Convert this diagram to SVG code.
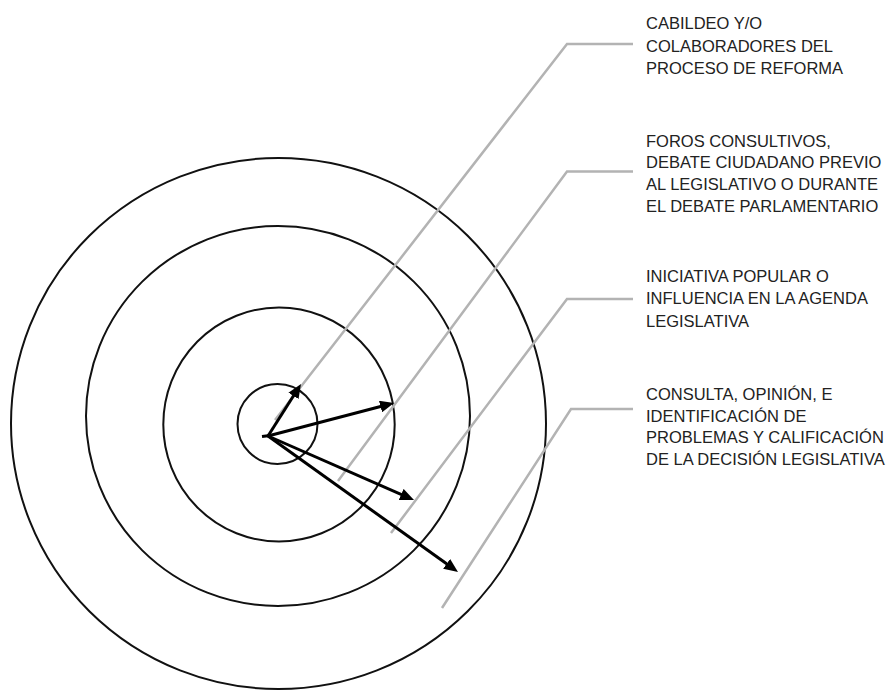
<svg xmlns="http://www.w3.org/2000/svg" width="890" height="690" viewBox="0 0 890 690">
<style>
.ring{fill:none;stroke:#111;stroke-width:2}
.lead{fill:none;stroke:#b3b3b3;stroke-width:2.5;stroke-linejoin:miter}
.arr{fill:none;stroke:#000;stroke-width:3;stroke-linecap:butt}
.lbl{font-family:"Liberation Sans",Arial,sans-serif;font-size:16.5px;fill:#222}
</style>
<defs>
<marker id="ah" markerUnits="userSpaceOnUse" markerWidth="14" markerHeight="12" viewBox="0 0 14 12" refX="6" refY="6" orient="auto">
<path d="M0,0 L14,6 L0,12 z" fill="#000"/>
</marker>
</defs>
<rect width="890" height="690" fill="#fff"/>
<g id="rings">
<ellipse id="ring4" class="ring" cx="278.5" cy="423.5" rx="267.5" ry="265.5"/>
<ellipse id="ring3" class="ring" cx="278" cy="416" rx="192" ry="190"/>
<ellipse id="ring2" class="ring" cx="279" cy="424.5" rx="115.7" ry="117"/>
<circle id="ring1" class="ring" cx="277.5" cy="424" r="40"/>
</g>
<g id="connectors">
<polyline class="lead" points="275,420 567,44 633,44"/>
<polyline class="lead" points="338,481 567,171.5 633,171.5"/>
<polyline class="lead" points="391,533 567,299 633,299"/>
<polyline class="lead" points="442,608 571,409 633,409"/>
<line class="arr" x1="262" y1="436.5" x2="270" y2="435.5"/>
<line class="arr" x1="268" y1="436" x2="296.7" y2="390.8" marker-end="url(#ah)"/>
<line class="arr" x1="268" y1="436" x2="386.3" y2="405" marker-end="url(#ah)"/>
<line class="arr" x1="268" y1="436" x2="406.7" y2="496.8" marker-end="url(#ah)"/>
<line class="arr" x1="268" y1="436" x2="451.5" y2="567.3" marker-end="url(#ah)"/>
</g>
<g id="label1">
<text class="lbl" x="646" y="29">CABILDEO Y/O</text>
<text class="lbl" x="646" y="51.5">COLABORADORES DEL</text>
<text class="lbl" x="646" y="74">PROCESO DE REFORMA</text>
</g>
<g id="label2">
<text class="lbl" x="646" y="146.5">FOROS CONSULTIVOS,</text>
<text class="lbl" x="646" y="168">DEBATE CIUDADANO PREVIO</text>
<text class="lbl" x="646" y="189.5">AL LEGISLATIVO O DURANTE</text>
<text class="lbl" x="646" y="211.5">EL DEBATE PARLAMENTARIO</text>
</g>
<g id="label3">
<text class="lbl" x="646" y="282">INICIATIVA POPULAR O</text>
<text class="lbl" x="646" y="304">INFLUENCIA EN LA AGENDA</text>
<text class="lbl" x="646" y="326.5">LEGISLATIVA</text>
</g>
<g id="label4">
<text class="lbl" x="646" y="400">CONSULTA, OPINIÓN, E</text>
<text class="lbl" x="646" y="421.5">IDENTIFICACIÓN DE</text>
<text class="lbl" x="646" y="443">PROBLEMAS Y CALIFICACIÓN</text>
<text class="lbl" x="646" y="465">DE LA DECISIÓN LEGISLATIVA</text>
</g>
</svg>
